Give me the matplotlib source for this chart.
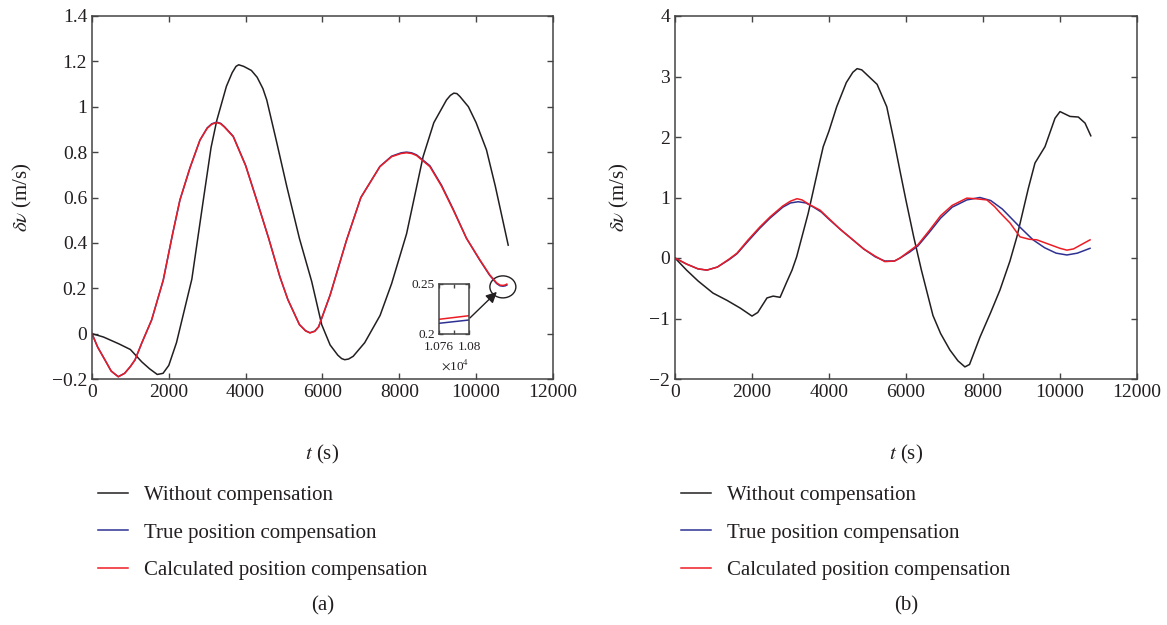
import matplotlib
matplotlib.use("Agg")
from matplotlib import pyplot as plt
from matplotlib.patches import Ellipse
from matplotlib.lines import Line2D

plt.rcParams['font.family'] = ['Liberation Serif', 'DejaVu Serif']
plt.rcParams['mathtext.fontset'] = 'stix'
plt.rcParams['axes.unicode_minus'] = True

# ---- (a) 速度误差 ----
t_a_wo = [0, 300, 700, 1000, 1300, 1500, 1700, 1850, 2000, 2200, 2400, 2600,
          2900, 3100, 3250, 3500, 3650, 3750, 3820, 3950, 4150, 4300, 4450,
          4550, 4800, 5070, 5400, 5720, 5980, 6200, 6400, 6500, 6580, 6680,
          6800, 7100, 7500, 7800, 8190, 8620, 8900, 9230, 9330, 9420, 9500,
          9580, 9800, 10000, 10270, 10500, 10836]
v_a_wo = [0.0, -0.015, -0.045, -0.07, -0.125, -0.155, -0.18, -0.175, -0.14,
          -0.04, 0.1, 0.24, 0.59, 0.82, 0.94, 1.09, 1.15, 1.178, 1.185, 1.178,
          1.16, 1.13, 1.08, 1.03, 0.85, 0.65, 0.42, 0.23, 0.04, -0.05, -0.095,
          -0.11, -0.115, -0.112, -0.1, -0.04, 0.08, 0.22, 0.44, 0.78, 0.93,
          1.03, 1.05, 1.06, 1.058, 1.045, 1.0, 0.93, 0.81, 0.65, 0.39]

t_a_cp = [0, 150, 338, 500, 685, 850, 1000, 1120, 1300, 1553, 1856, 2100,
          2290, 2550, 2811, 3000, 3120, 3245, 3350, 3450, 3678, 4000, 4287,
          4600, 4893, 5100, 5400, 5560, 5674, 5800, 5900, 6200, 6629, 7000,
          7496, 7800, 8050, 8190, 8320, 8450, 8797, 9100, 9405, 9750, 10099,
          10350, 10533, 10620, 10700, 10760, 10800]
v_a_cp = [0.0, -0.06, -0.116, -0.165, -0.19, -0.175, -0.145, -0.116, -0.04,
          0.06, 0.236, 0.44, 0.589, 0.73, 0.853, 0.905, 0.923, 0.93, 0.925,
          0.91, 0.868, 0.74, 0.589, 0.42, 0.25, 0.15, 0.04, 0.012, 0.003,
          0.01, 0.03, 0.17, 0.413, 0.6, 0.736, 0.78, 0.794, 0.797, 0.794,
          0.785, 0.736, 0.65, 0.545, 0.42, 0.325, 0.26, 0.224, 0.214, 0.2125,
          0.2147, 0.2183]
v_a_tp = [0.0, -0.06, -0.116, -0.165, -0.19, -0.175, -0.145, -0.116, -0.04,
          0.06, 0.236, 0.44, 0.589, 0.73, 0.853, 0.907, 0.925, 0.932, 0.927,
          0.912, 0.87, 0.742, 0.59, 0.42, 0.25, 0.15, 0.04, 0.013, 0.004,
          0.011, 0.03, 0.17, 0.413, 0.6, 0.737, 0.782, 0.797, 0.80, 0.797,
          0.788, 0.74, 0.654, 0.548, 0.42, 0.323, 0.258, 0.221, 0.211, 0.209,
          0.2107, 0.214]

# ---- (b) ----
t_b_wo = [0, 300, 600, 987, 1350, 1700, 2000, 2150, 2390, 2550, 2730, 2900,
          3040, 3160, 3460, 3770, 3850, 4000, 4200, 4450, 4620, 4730, 4850,
          4950, 5250, 5500, 5700, 5850, 6000, 6200, 6400, 6700, 6900, 7140,
          7350, 7530, 7650, 7920, 8200, 8440, 8700, 8880, 9177, 9350, 9610,
          9870, 10000, 10130, 10260, 10476, 10650, 10800]
v_b_wo = [0.0, -0.2, -0.38, -0.58, -0.7, -0.83, -0.96, -0.9, -0.66, -0.63,
          -0.65, -0.4, -0.2, 0.02, 0.74, 1.62, 1.84, 2.1, 2.5, 2.9, 3.07, 3.13,
          3.11, 3.05, 2.87, 2.5, 1.9, 1.42, 0.95, 0.35, -0.2, -0.95, -1.25,
          -1.52, -1.7, -1.8, -1.76, -1.31, -0.9, -0.53, -0.05, 0.35, 1.15,
          1.57, 1.84, 2.31, 2.42, 2.38, 2.34, 2.33, 2.23, 2.02]

t_b_cp = [0, 300, 600, 830, 1100, 1400, 1610, 1900, 2200, 2470, 2800, 3000,
          3170, 3300, 3500, 3770, 4000, 4300, 4620, 4900, 5200, 5450, 5700,
          5844, 6100, 6310, 6600, 6900, 7200, 7580, 7800, 8100, 8300, 8440,
          8700, 8960, 9200, 9400, 9700, 10000, 10180, 10350, 10550, 10780]
v_b_cp = [0.0, -0.1, -0.18, -0.2, -0.15, -0.02, 0.08, 0.3, 0.51, 0.68, 0.86,
          0.94, 0.98, 0.96, 0.88, 0.79, 0.65, 0.47, 0.3, 0.15, 0.03, -0.06,
          -0.05, 0.0, 0.12, 0.22, 0.45, 0.7, 0.87, 0.99, 0.98, 0.96, 0.85,
          0.75, 0.58, 0.35, 0.31, 0.3, 0.23, 0.16, 0.13, 0.15, 0.22, 0.3]

t_b_tp = [0, 300, 600, 830, 1100, 1400, 1610, 1900, 2200, 2470, 2800, 3000,
          3200, 3400, 3600, 3800, 4000, 4300, 4620, 4900, 5200, 5450, 5700,
          5850, 6100, 6310, 6600, 6900, 7200, 7580, 7920, 8200, 8500, 8960,
          9300, 9600, 9900, 10180, 10450, 10780]
v_b_tp = [0.0, -0.1, -0.18, -0.2, -0.15, -0.03, 0.07, 0.28, 0.49, 0.66, 0.84,
          0.91, 0.93, 0.91, 0.84, 0.76, 0.64, 0.47, 0.3, 0.15, 0.02, -0.05,
          -0.05, 0.0, 0.1, 0.2, 0.42, 0.66, 0.84, 0.96, 1.0, 0.95, 0.81, 0.51,
          0.3, 0.17, 0.08, 0.05, 0.08, 0.16]

labels = ['Without compensation', 'True position compensation',
          'Calculated position compensation']
c_wo, c_tp, c_cp = '#231f20', '#2e3192', '#ed1c24'
txt = '#231f20'

fig = plt.figure(figsize=(11.67, 6.25), dpi=100)


def style_axes(ax, fs=14):
    ax.tick_params(direction='in', top=True, right=True, length=4,
                   width=1, labelsize=fs, colors='#444444', labelcolor=txt)
    for s in ax.spines.values():
        s.set_color('#444444')
        s.set_linewidth(1.1)


def fmt(v):
    s = ('%g' % v)
    return s.replace('-', '\u2212')


ax1 = fig.add_axes([0.0788, 0.3936, 0.395, 0.5808])
ax1.plot(t_a_wo, v_a_wo, color=c_wo, lw=1.1)
ax1.plot(t_a_cp, v_a_tp, color=c_tp, lw=1.1)
ax1.plot(t_a_cp, v_a_cp, color=c_cp, lw=1.1)
ax1.set_xlim(0, 12000)
ax1.set_ylim(-0.2, 1.4)
yt_a = [-0.2, 0, 0.2, 0.4, 0.6, 0.8, 1.0, 1.2, 1.4]
ax1.set_yticks(yt_a)
ax1.set_yticklabels([fmt(v) for v in yt_a])
ax1.set_xticks(range(0, 12001, 2000))
style_axes(ax1)

# 末端放大区域
ax1.add_patch(Ellipse((10697, 0.206), 677, 0.097, fill=False, lw=1.0,
                      color='#231f20'))
ax1.annotate('', xy=(10541, 0.184), xytext=(9839, 0.069),
             arrowprops=dict(arrowstyle='-|>', color='#231f20', lw=1.0,
                             mutation_scale=16, shrinkA=0, shrinkB=0))

axin = fig.add_axes([0.3762, 0.4656, 0.0257, 0.08])
axin.plot(t_a_cp, v_a_tp, color=c_tp, lw=1.1)
axin.plot(t_a_cp, v_a_cp, color=c_cp, lw=1.1)
axin.set_xlim(10760, 10800)
axin.set_ylim(0.2, 0.25)
axin.set_xticks([10760, 10780, 10800])
axin.set_xticklabels(['1.076', '', '1.08'])
axin.set_yticks([0.2, 0.25])
axin.set_yticklabels(['0.2', '0.25'])
style_axes(axin, fs=9.5)
axin.tick_params(axis='x', length=3, pad=5)
axin.tick_params(axis='y', length=3, pad=3)
fig.text(0.3896, 0.416, '$\\times$10$^4$', ha='center', va='center',
         fontsize=9.5, color=txt)

ax2 = fig.add_axes([0.5784, 0.3936, 0.3959, 0.5808])
ax2.plot(t_b_wo, v_b_wo, color=c_wo, lw=1.1)
ax2.plot(t_b_tp, v_b_tp, color=c_tp, lw=1.1)
ax2.plot(t_b_cp, v_b_cp, color=c_cp, lw=1.1)
ax2.set_xlim(0, 12000)
ax2.set_ylim(-2, 4)
yt_b = [-2, -1, 0, 1, 2, 3, 4]
ax2.set_yticks(yt_b)
ax2.set_yticklabels([fmt(v) for v in yt_b])
ax2.set_xticks(range(0, 12001, 2000))
style_axes(ax2)

for ax, cap, lx in [(ax1, '(a)', 0.0788), (ax2, '(b)', 0.5784)]:
    ax.set_xlabel('$t$ (s)', fontsize=15, color=txt, labelpad=30)
    ax.set_ylabel('$\\delta\\nu$ (m/s)', fontsize=15, color=txt, labelpad=13)
    handles = [Line2D([], [], color=c, lw=1.1) for c in (c_wo, c_tp, c_cp)]
    fig.legend(handles, labels, loc='upper left',
               bbox_to_anchor=(lx - 0.002, 0.236), frameon=False,
               fontsize=15, handlelength=1.45, handletextpad=0.75,
               labelspacing=0.85, borderaxespad=0, labelcolor=txt)
    pos = ax.get_position()
    fig.text((pos.x0 + pos.x1) / 2, 1 - 606 / 625, cap, ha='center',
             va='center', fontsize=15, color=txt)

fig.savefig('out.png', dpi=100)
